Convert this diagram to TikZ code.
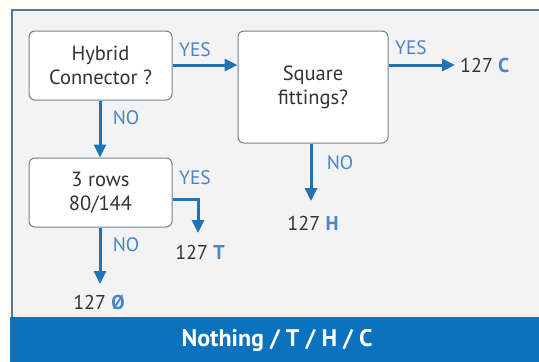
\documentclass[tikz,border=0pt]{standalone}
\usepackage{fontspec}
\setmainfont{PT Sans}
\usetikzlibrary{arrows.meta}
\definecolor{bg}{HTML}{FFFDF6}
\definecolor{panel}{HTML}{F3F3F3}
\definecolor{framec}{HTML}{4F7D93}
\definecolor{arr}{HTML}{1F73B7}
\definecolor{lab}{HTML}{4A86C5}
\definecolor{barc}{HTML}{0A72BE}
\definecolor{txt}{HTML}{333333}
\definecolor{boxline}{HTML}{6E8596}
\begin{document}
\begin{tikzpicture}[x=1pt,y=-1pt,
  qbox/.style={draw=boxline, line width=1pt, fill=white, rounded corners=6pt,
    align=center, text=txt, font=\fontsize{20.5}{24}\selectfont, inner sep=0pt},
  conn/.style={draw=arr, line width=3pt, -{Triangle[length=13pt,width=12pt]}},
  plain/.style={draw=arr, line width=3pt},
  yn/.style={text=lab, font=\fontsize{19.5}{22}\selectfont, inner sep=0pt},
  res/.style={text=txt, font=\fontsize{20}{22}\selectfont, inner sep=0pt}]
\fill[bg] (0,0) rectangle (539,362);
\useasboundingbox (0,0) rectangle (539,362);
\draw[framec, fill=panel, line width=1.3pt] (12,10) rectangle (545,318);
\fill[barc] (10,317) rectangle (539,362);
\node[text=white, font=\fontsize{24}{26}\selectfont\bfseries] (bartext) at (277,340) {Nothing / T / H / C};

\node[qbox, minimum width=143pt, minimum height=69pt] (b1) at (100.5,65.5) {Hybrid\\Connector ?};
\node[qbox, minimum width=150pt, minimum height=112pt] (b2) at (313,87) {Square\\fittings?};
\node[qbox, minimum width=143pt, minimum height=69pt] (b3) at (100.5,192.5) {3 rows\\80/144};

\coordinate (cC) at (455,65);
\coordinate (cH) at (311,201);
\coordinate (cTk) at (198,199);
\coordinate (cT) at (198,233);
\coordinate (cO) at (100,284);

\draw[conn] (b1.east |- 0,65) -- (b2.west |- 0,65);
\draw[conn] (b2.east |- 0,65) -- (cC);
\draw[conn] (b2.south -| cH) -- (cH);
\draw[conn] (b1.south -| cO) -- (b3.north -| cO);
\draw[plain] (b3.east |- cTk) -- ([xshift=1.5pt]cTk);
\draw[conn] ([yshift=-1.5pt]cTk) -- (cT);
\draw[conn] (b3.south -| cO) -- (cO);

\node[yn] (y1) at (195,50) {YES};
\node[yn] (y2) at (411,48) {YES};
\node[yn] (y3) at (195,178) {YES};
\node[yn] (n1) at (126,118) {NO};
\node[yn] (n2) at (340,163) {NO};
\node[yn] (n3) at (126,245) {NO};

\node[res, anchor=west] (rC) at (460,65) {127 \textcolor{lab}{\bfseries C}};
\node[res] (rH) at (313,223) {127 \textcolor{lab}{\bfseries H}};
\node[res] (rT) at (200,252) {127 \textcolor{lab}{\bfseries T}};
\node[res] (rO) at (99,302) {127 \textcolor{lab}{\bfseries Ø}};
\end{tikzpicture}
\end{document}
